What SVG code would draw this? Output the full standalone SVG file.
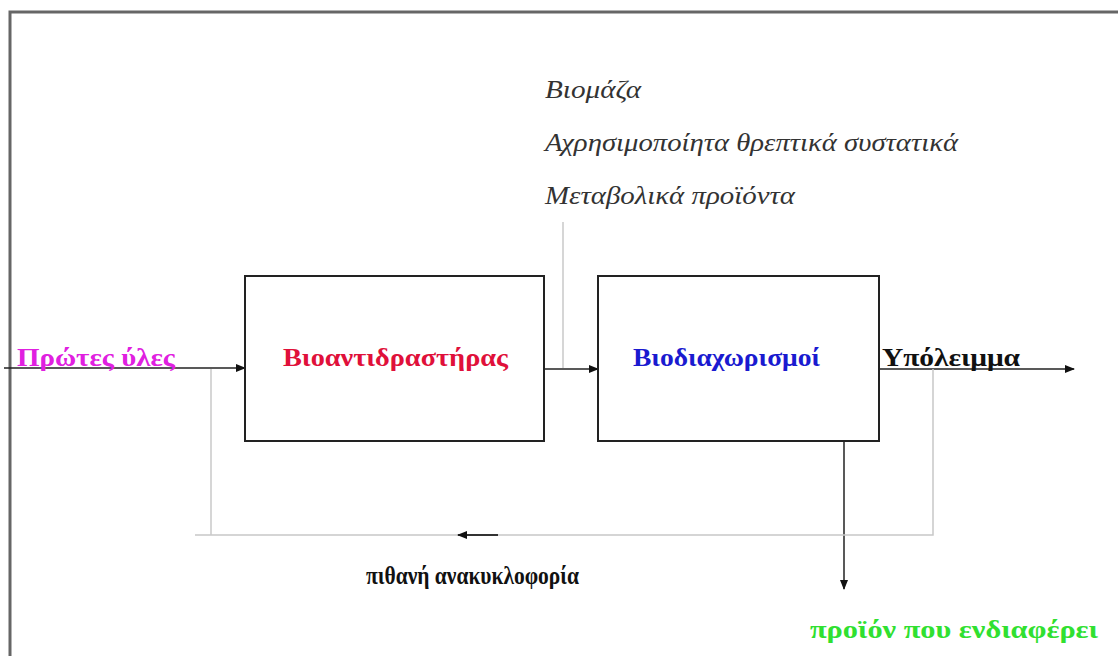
<svg xmlns="http://www.w3.org/2000/svg" width="1118" height="656" viewBox="0 0 1118 656">
<defs>
<marker id="ah" viewBox="0 0 10 10" refX="9" refY="5" markerWidth="10" markerHeight="10" markerUnits="userSpaceOnUse" orient="auto"><path d="M0,1 L10,5 L0,9 z" fill="#111"/></marker>
</defs>
<style>
.box{fill:#fff;stroke:#222;stroke-width:2}
.ln{stroke:#222;stroke-width:1.5;fill:none}
.gl{stroke:#c8c8c8;stroke-width:1.5;fill:none}
.b{font-family:"Liberation Serif","DejaVu Serif",serif;font-weight:bold;font-size:26px}
.i{font-family:"Liberation Serif","DejaVu Serif",serif;font-style:italic;font-size:25px;fill:#333}
</style>
<rect width="1118" height="656" fill="#fff"/>
<path d="M10,656 V12 H1118" fill="none" stroke="#666" stroke-width="3"/>
<g id="connectors">
<line class="ln" x1="4" y1="368" x2="245" y2="368" marker-end="url(#ah)"/>
<line class="ln" x1="545" y1="369" x2="598" y2="369" marker-end="url(#ah)"/>
<line class="gl" x1="563" y1="222" x2="563" y2="368"/>
<line class="ln" x1="879" y1="369" x2="1074" y2="369" marker-end="url(#ah)"/>
<line class="ln" x1="844" y1="442" x2="844" y2="589" marker-end="url(#ah)"/>
<polyline class="gl" points="933,369 933,535 195,535"/>
<line class="gl" x1="211" y1="369" x2="211" y2="535"/>
<line x1="498" y1="535" x2="458" y2="535" stroke="#333" stroke-width="2" marker-end="url(#ah)"/>
</g>
<g id="n-bioreactor">
<rect class="box" x="245" y="276" width="299" height="165"/>
<text class="b" x="283" y="366" textLength="225" lengthAdjust="spacingAndGlyphs" fill="#e0103a">Βιοαντιδραστήρας</text>
</g>
<g id="n-bioseparation">
<rect class="box" x="598" y="276" width="281" height="165"/>
<text class="b" x="633" y="366" textLength="187" lengthAdjust="spacingAndGlyphs" fill="#1a1ad0">Βιοδιαχωρισμοί</text>
</g>
<g id="n-input">
<text class="b" x="17" y="366" textLength="158" lengthAdjust="spacingAndGlyphs" fill="#e020e0">Πρώτες ύλες</text>
</g>
<g id="n-residue">
<text class="b" x="882" y="366" textLength="138" lengthAdjust="spacingAndGlyphs" fill="#111">Υπόλειμμα</text>
</g>
<g id="n-product">
<text class="b" x="810" y="638" textLength="288" lengthAdjust="spacingAndGlyphs" fill="#30e030">προϊόν που ενδιαφέρει</text>
</g>
<g id="n-recycle">
<text class="b" x="366" y="584" font-size="23" textLength="213" lengthAdjust="spacingAndGlyphs" fill="#111">πιθανή ανακυκλοφορία</text>
</g>
<g id="n-byproducts">
<text class="i" x="545" y="98" textLength="96" lengthAdjust="spacingAndGlyphs">Βιομάζα</text>
<text class="i" x="545" y="151" textLength="413" lengthAdjust="spacingAndGlyphs">Αχρησιμοποίητα θρεπτικά συστατικά</text>
<text class="i" x="545" y="204" textLength="250" lengthAdjust="spacingAndGlyphs">Μεταβολικά προϊόντα</text>
</g>
</svg>
